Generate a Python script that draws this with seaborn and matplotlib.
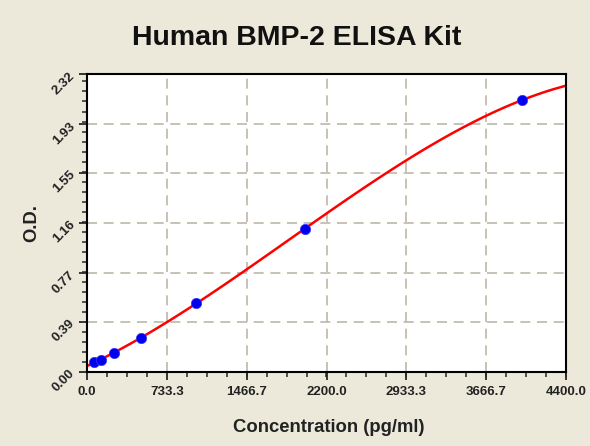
import numpy as np
import pandas as pd
import matplotlib
matplotlib.use("Agg")
import matplotlib.pyplot as plt
import seaborn as sns
from matplotlib.ticker import AutoMinorLocator

# standard curve points
conc = [62.5, 125, 250, 500, 1000, 2000, 4000]
od = [0.078, 0.095, 0.148, 0.265, 0.537, 1.114, 2.118]

x_ticks = [0.0, 733.3, 1466.7, 2200.0, 2933.3, 3666.7, 4400.0]
y_ticks = [0.00, 0.39, 0.77, 1.16, 1.55, 1.93, 2.32]

df = pd.DataFrame({"conc": conc, "od": od})

sns.set_style("white")
plt.rcParams["font.family"] = ["Liberation Sans", "DejaVu Sans"]

bg = "#ECE9DB"
fig = plt.figure(figsize=(5.9, 4.46), dpi=100, facecolor=bg)
ax = fig.add_axes([87 / 590, 74 / 446, (566 - 87) / 590, (372 - 74) / 446])
ax.set_xlim(0, 4400)
ax.set_ylim(0, 2.32)

# fitted standard curve
sns.regplot(data=df, x="conc", y="od", order=3, ci=None, truncate=False,
            scatter=False, ax=ax, line_kws={"color": "red", "lw": 1.8})
sns.scatterplot(data=df, x="conc", y="od", ax=ax, color="#0000EE",
                s=55, edgecolor="#3333FF", linewidth=0.5, zorder=3)

ax.set_xticks(x_ticks)
ax.set_xticklabels([f"{v:.1f}" for v in x_ticks], fontsize=9.5, fontweight="bold",
                   color="#222222")
ax.set_yticks(y_ticks)
ax.set_yticklabels([f"{v:.2f}" for v in y_ticks], fontsize=9.5, fontweight="bold",
                   color="#222222", rotation=45, ha="right", va="center",
                   rotation_mode="anchor")
ax.xaxis.set_minor_locator(AutoMinorLocator(4))
ax.yaxis.set_minor_locator(AutoMinorLocator(5))
ax.tick_params(which="major", direction="out", length=6, width=1.3,
               bottom=True, left=True, pad=4)
ax.tick_params(which="minor", direction="out", length=3.5, width=1.1,
               bottom=True, left=True)

ax.grid(True, which="major", color="#BDB8A8", linestyle=(0, (6, 4)), lw=1.2)
for s in ax.spines.values():
    s.set_visible(True)
    s.set_color("black")
    s.set_linewidth(1.5)

ax.set_xlabel("")
ax.set_ylabel("")
fig.text(297 / 590, 1 - 38 / 446, "Human BMP-2 ELISA Kit", ha="center",
         va="center", fontsize=20.5, fontweight="bold", color="#111111")
fig.text(329 / 590, 1 - 428 / 446, "Concentration (pg/ml)", ha="center",
         va="center", fontsize=13.3, fontweight="bold", color="#222222")
fig.text(32 / 590, 1 - 223 / 446, "O.D.", ha="center", va="center",
         rotation=90, fontsize=13.3, fontweight="bold", color="#222222")

fig.savefig("out.png", dpi=100, facecolor=bg)
